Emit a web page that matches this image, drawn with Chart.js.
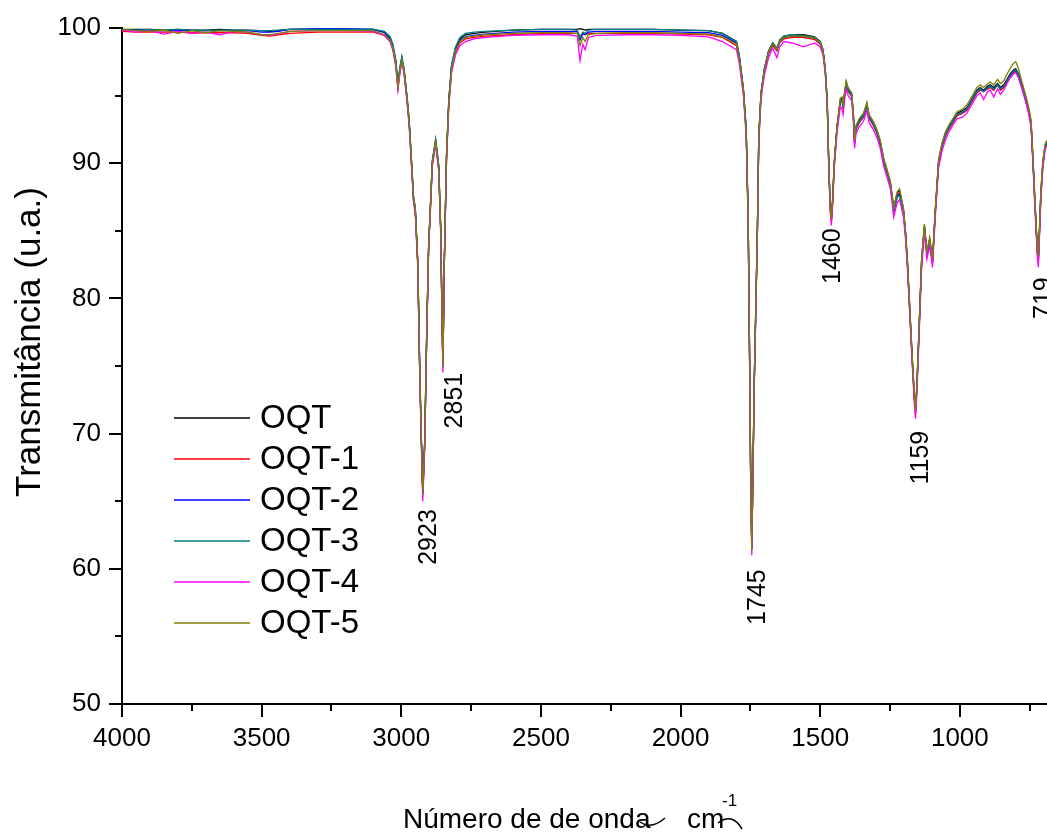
<!DOCTYPE html>
<html>
<head>
<meta charset="utf-8">
<script src="https://cdn.jsdelivr.net/npm/chart.js@4/dist/chart.umd.min.js"></script>
<style>
  html, body { margin: 0; padding: 0; background: #fff; }
  #wrap { width: 1047px; height: 834px; position: relative; }
</style>
</head>
<body>
<div id="wrap"><canvas id="chart"></canvas></div>
<script>
// FTIR spectra, transmittance vs wavenumber

const wavenumbers = [
  4000, 3950, 3900, 3850, 3800, 3750, 3700, 3650, 3600, 3550,
  3500, 3470, 3440, 3400, 3300, 3200, 3100, 3060, 3040, 3030,
  3020, 3012, 3005, 2998, 2990, 2980, 2972, 2963, 2956, 2950,
  2941, 2934, 2928, 2923, 2916, 2909, 2902, 2896, 2889, 2877,
  2866, 2859, 2855, 2851, 2846, 2838, 2830, 2820, 2806, 2790,
  2770, 2740, 2700, 2600, 2500, 2400, 2370, 2360, 2350, 2342,
  2330, 2300, 2200, 2100, 2000, 1900, 1850, 1800, 1790, 1775,
  1765, 1758, 1753, 1749, 1745, 1741, 1736, 1730, 1725, 1720,
  1712, 1700, 1685, 1670, 1655, 1645, 1630, 1600, 1560, 1520,
  1500, 1490, 1482, 1475, 1469, 1464, 1460, 1455, 1450, 1440,
  1428, 1422, 1418, 1412, 1407, 1400, 1387, 1381, 1377, 1372,
  1360, 1345, 1333, 1325, 1310, 1297, 1285, 1273, 1260, 1249,
  1242, 1237, 1230, 1224, 1216, 1210, 1202, 1195, 1188, 1180,
  1170, 1163, 1159, 1154, 1148, 1137, 1127, 1118, 1108, 1098,
  1088, 1076, 1064, 1052, 1040, 1025, 1010, 990, 975, 955,
  939, 927, 915, 900, 891, 879, 865, 855, 843, 831,
  820, 808, 800, 790, 784, 772, 760, 752, 745, 738,
  732, 726, 722, 719, 715, 710, 703, 695, 688
];

const oqt = [
  99.9, 99.9, 99.9, 99.85, 99.9, 99.85, 99.85, 99.9, 99.85, 99.85,
  99.8, 99.75, 99.8, 99.9, 99.9, 99.9, 99.9, 99.7, 99.3, 98.7,
  97.6, 95.8, 97.0, 97.8, 96.9, 95.0, 93.2, 90.0, 87.4, 86.7,
  82.7, 74.8, 69.5, 65.6, 69.5, 77.4, 84.0, 86.7, 90.1, 91.7,
  89.8, 85.3, 80.0, 75.0, 82.7, 90.6, 94.6, 97.2, 98.5, 99.2,
  99.5, 99.6, 99.7, 99.85, 99.9, 99.9, 99.9, 99.95, 99.9, 99.85,
  99.9, 99.9, 99.9, 99.9, 99.85, 99.8, 99.6, 99.0, 98.0, 95.5,
  92.5, 86.0, 76.0, 67.0, 61.6, 67.0, 74.0, 80.0, 85.0, 92.0,
  95.2, 97.0, 98.3, 98.9, 98.5, 99.1, 99.4, 99.5, 99.5, 99.35,
  99.0, 98.4, 97.0, 94.7, 89.7, 86.8, 85.9, 87.5, 90.0, 92.7,
  94.7, 94.8, 94.3, 95.3, 96.0, 95.5, 95.1, 93.5, 91.6, 92.7,
  93.2, 93.6, 94.4, 93.5, 93.0, 92.4, 91.6, 90.3, 89.4, 88.6,
  87.5, 86.6, 87.3, 87.8, 88.0, 87.4, 86.6, 85.0, 82.8, 79.5,
  75.4, 72.8, 71.7, 73.5, 76.7, 82.8, 85.4, 83.4, 84.4, 82.8,
  86.5, 90.2, 91.4, 92.2, 92.7, 93.2, 93.7, 93.9, 94.1, 94.8,
  95.4, 95.6, 95.4, 95.7, 95.8, 95.6, 95.9, 95.6, 95.8, 96.2,
  96.6, 96.9, 97.0, 96.6, 96.2, 95.4, 94.5, 93.8, 93.0, 90.2,
  87.5, 85.0, 83.4, 82.9, 85.0, 87.8, 90.0, 91.3, 91.6
];

const oqt1 = [
  99.75, 99.7, 99.7, 99.7, 99.7, 99.65, 99.65, 99.65, 99.65, 99.6,
  99.45, 99.4, 99.5, 99.6, 99.7, 99.7, 99.7, 99.45, 99.0, 98.4,
  97.3, 95.6, 96.8, 97.6, 96.7, 94.8, 93.0, 89.8, 87.2, 86.5,
  82.5, 74.6, 69.3, 65.6, 69.3, 77.2, 83.8, 86.5, 89.9, 91.5,
  89.6, 85.1, 79.8, 74.9, 82.5, 90.4, 94.3, 96.9, 98.2, 98.9,
  99.2, 99.3, 99.4, 99.5, 99.6, 99.6, 99.6, 99.4, 99.6, 99.5,
  99.6, 99.6, 99.6, 99.6, 99.55, 99.5, 99.3, 98.7, 97.7, 95.2,
  92.2, 85.8, 75.8, 66.8, 61.5, 66.8, 73.8, 79.8, 84.8, 91.8,
  95.0, 96.8, 98.1, 98.7, 98.3, 98.9, 99.2, 99.3, 99.3, 99.15,
  98.8, 98.2, 96.8, 94.5, 89.5, 86.6, 85.8, 87.3, 89.8, 92.5,
  94.5, 94.6, 94.1, 95.1, 95.8, 95.3, 94.9, 93.3, 91.4, 92.5,
  93.0, 93.4, 94.2, 93.3, 92.8, 92.2, 91.4, 90.1, 89.2, 88.4,
  87.3, 86.4, 87.1, 87.6, 87.8, 87.2, 86.4, 84.8, 82.6, 79.3,
  75.2, 72.6, 71.5, 73.3, 76.5, 82.6, 85.2, 83.2, 84.2, 82.6,
  86.3, 90.0, 91.2, 92.0, 92.5, 93.0, 93.5, 93.7, 93.9, 94.6,
  95.2, 95.4, 95.3, 95.5, 95.6, 95.4, 95.8, 95.4, 95.6, 96.0,
  96.4, 96.7, 96.8, 96.4, 96.0, 95.2, 94.3, 93.6, 92.8, 90.0,
  87.3, 84.8, 83.2, 82.7, 84.8, 87.6, 89.8, 91.1, 91.4
];

const oqt2 = [
  99.85, 99.85, 99.8, 99.8, 99.85, 99.8, 99.8, 99.8, 99.8, 99.8,
  99.7, 99.7, 99.75, 99.9, 99.95, 99.95, 99.9, 99.65, 99.2, 98.6,
  97.5, 95.7, 96.9, 97.7, 96.8, 94.9, 93.1, 89.9, 87.3, 86.6,
  82.6, 74.7, 69.4, 65.5, 69.4, 77.3, 83.9, 86.6, 90.0, 91.6,
  89.7, 85.2, 79.9, 74.9, 82.6, 90.5, 94.5, 97.1, 98.4, 99.1,
  99.35, 99.45, 99.55, 99.7, 99.75, 99.75, 99.75, 99.1, 99.6, 99.5,
  99.7, 99.75, 99.75, 99.75, 99.7, 99.65, 99.45, 98.9, 97.9, 95.4,
  92.4, 85.9, 75.9, 66.9, 61.5, 66.9, 73.9, 79.9, 84.9, 91.9,
  95.1, 96.9, 98.2, 98.8, 98.4, 99.0, 99.3, 99.4, 99.4, 99.25,
  98.9, 98.3, 96.9, 94.6, 89.6, 86.7, 85.8, 87.4, 89.9, 92.6,
  94.6, 94.7, 94.2, 95.2, 95.9, 95.4, 95.0, 93.4, 91.5, 92.6,
  93.1, 93.5, 94.3, 93.4, 92.9, 92.3, 91.5, 90.2, 89.3, 88.5,
  87.4, 86.4, 87.1, 87.6, 87.7, 87.2, 86.5, 84.9, 82.7, 79.4,
  75.3, 72.7, 71.6, 73.4, 76.6, 82.7, 85.3, 83.3, 84.3, 82.7,
  86.4, 90.1, 91.3, 92.1, 92.6, 93.1, 93.6, 93.8, 94.0, 94.7,
  95.3, 95.5, 95.3, 95.6, 95.7, 95.5, 95.8, 95.5, 95.7, 96.1,
  96.5, 96.8, 96.9, 96.5, 96.1, 95.3, 94.4, 93.7, 92.9, 90.1,
  87.4, 84.9, 83.3, 82.8, 84.9, 87.7, 89.9, 91.2, 91.5
];

const oqt3 = [
  99.9, 99.85, 99.9, 99.85, 99.9, 99.85, 99.8, 99.85, 99.85, 99.8,
  99.8, 99.8, 99.85, 99.9, 99.9, 99.9, 99.9, 99.75, 99.35, 98.8,
  97.7, 95.9, 97.1, 97.9, 97.0, 95.1, 93.3, 90.1, 87.5, 86.8,
  82.8, 74.9, 69.6, 65.6, 69.6, 77.5, 84.1, 86.8, 90.2, 91.8,
  89.9, 85.4, 80.1, 75.0, 82.8, 90.7, 94.7, 97.3, 98.6, 99.3,
  99.6, 99.7, 99.75, 99.85, 99.9, 99.9, 99.85, 99.3, 99.7, 99.6,
  99.85, 99.9, 99.9, 99.9, 99.85, 99.8, 99.6, 99.0, 98.0, 95.5,
  92.5, 86.0, 76.0, 67.0, 61.5, 67.0, 74.0, 80.0, 85.0, 92.0,
  95.2, 97.0, 98.3, 98.9, 98.5, 99.1, 99.4, 99.5, 99.45, 99.3,
  98.95, 98.35, 96.95, 94.7, 89.7, 86.7, 85.8, 87.4, 89.9, 92.6,
  94.6, 94.7, 94.2, 95.2, 95.9, 95.4, 95.0, 93.4, 91.5, 92.6,
  93.1, 93.5, 94.3, 93.4, 92.9, 92.3, 91.5, 90.2, 89.3, 88.5,
  87.4, 86.4, 87.0, 87.5, 87.6, 87.1, 86.4, 84.9, 82.7, 79.4,
  75.3, 72.7, 71.6, 73.4, 76.6, 82.7, 85.3, 83.3, 84.3, 82.7,
  86.4, 90.1, 91.3, 92.1, 92.6, 93.1, 93.6, 93.8, 94.0, 94.7,
  95.3, 95.5, 95.3, 95.6, 95.7, 95.5, 95.8, 95.5, 95.7, 96.1,
  96.5, 96.8, 96.9, 96.5, 96.1, 95.3, 94.4, 93.7, 92.9, 90.1,
  87.4, 84.9, 83.3, 82.8, 84.9, 87.7, 89.9, 91.2, 91.5
];

const oqt4 = [
  99.85, 99.7, 99.8, 99.55, 99.75, 99.6, 99.7, 99.5, 99.75, 99.7,
  99.5, 99.45, 99.55, 99.75, 99.8, 99.8, 99.75, 99.45, 99.0, 98.35,
  97.2, 95.4, 96.6, 97.5, 96.6, 94.6, 92.8, 89.6, 87.0, 86.3,
  82.3, 74.3, 69.0, 65.0, 69.0, 77.0, 83.6, 86.3, 89.7, 91.4,
  89.4, 84.8, 79.5, 74.5, 82.3, 90.2, 94.1, 96.7, 98.0, 98.7,
  99.0, 99.2, 99.3, 99.45, 99.5, 99.5, 99.4, 97.6, 98.8, 98.4,
  99.3, 99.45, 99.5, 99.5, 99.45, 99.35, 99.0, 98.4, 97.4, 95.0,
  92.0, 85.5, 75.4, 66.5, 61.0, 66.5, 73.5, 79.5, 84.5, 91.5,
  94.7, 96.5, 97.8, 98.5, 97.8, 98.6, 99.0, 98.9, 98.6, 98.9,
  98.6, 98.0, 96.6, 94.3, 89.3, 86.3, 85.4, 87.0, 89.5, 92.2,
  94.2, 94.0, 93.6, 94.8, 95.5, 95.0, 94.6, 93.0, 91.1, 92.2,
  92.7, 93.1, 93.9, 93.0, 92.5, 91.9, 91.1, 89.8, 88.9, 88.1,
  87.0, 86.0, 86.6, 87.1, 87.3, 86.8, 86.0, 84.5, 82.3, 79.0,
  74.9, 72.2, 71.1, 72.9, 76.1, 82.2, 84.9, 82.9, 83.9, 82.3,
  86.0, 89.7, 90.9, 91.7, 92.3, 92.8, 93.3, 93.4, 93.7, 94.4,
  95.0, 95.2, 94.7, 95.3, 95.4, 94.9, 95.5, 95.1, 95.4, 95.9,
  96.3, 96.6, 96.7, 96.3, 95.9, 95.1, 94.2, 93.5, 92.6, 89.8,
  87.0, 84.5, 82.9, 82.3, 84.5, 87.3, 89.6, 91.0, 91.3
];

const oqt5 = [
  99.9, 99.8, 99.75, 99.85, 99.6, 99.8, 99.65, 99.8, 99.75, 99.7,
  99.5, 99.5, 99.6, 99.75, 99.8, 99.8, 99.8, 99.5, 99.1, 98.5,
  97.4, 95.6, 96.8, 97.6, 96.8, 94.9, 93.1, 89.9, 87.3, 86.6,
  82.6, 74.7, 69.4, 65.5, 69.4, 77.3, 83.9, 86.6, 90.0, 91.6,
  89.7, 85.2, 79.9, 74.9, 82.6, 90.5, 94.4, 97.0, 98.3, 99.0,
  99.3, 99.4, 99.5, 99.6, 99.65, 99.65, 99.6, 98.7, 99.3, 99.0,
  99.5, 99.6, 99.65, 99.65, 99.6, 99.55, 99.35, 98.8, 97.8, 95.4,
  92.4, 85.9, 75.9, 66.9, 61.4, 66.9, 73.9, 79.9, 84.9, 91.9,
  95.1, 96.9, 98.2, 98.8, 98.4, 99.0, 99.3, 99.4, 99.4, 99.25,
  98.9, 98.3, 96.9, 94.6, 89.6, 86.8, 85.9, 87.5, 90.0, 92.7,
  94.8, 94.9, 94.4, 95.4, 96.1, 95.6, 95.2, 93.6, 91.7, 92.8,
  93.3, 93.7, 94.5, 93.6, 93.1, 92.5, 91.7, 90.4, 89.5, 88.7,
  87.6, 86.7, 87.4, 87.9, 88.1, 87.5, 86.7, 85.1, 82.9, 79.6,
  75.5, 72.9, 71.7, 73.6, 76.8, 82.9, 85.5, 83.5, 84.5, 82.9,
  86.6, 90.3, 91.5, 92.3, 92.8, 93.3, 93.8, 94.0, 94.3, 95.0,
  95.6, 95.8, 95.6, 95.9, 96.0, 95.8, 96.2, 95.9, 96.1, 96.6,
  97.0, 97.4, 97.5, 97.0, 96.5, 95.6, 94.7, 94.0, 93.2, 90.4,
  87.7, 85.2, 83.6, 83.1, 85.2, 88.0, 90.2, 91.4, 91.7
];

const seriesNames = ['OQT', 'OQT-1', 'OQT-2', 'OQT-3', 'OQT-4', 'OQT-5'];
const seriesColors = ['#000000', '#ff0000', '#0000ff', '#008080', '#ff00ff', '#808000'];
const seriesValues = [oqt, oqt1, oqt2, oqt3, oqt4, oqt5];

const xTicks = [4000, 3500, 3000, 2500, 2000, 1500, 1000];
const xMinorTicks = [3750, 3250, 2750, 2250, 1750, 1250, 750];
const yMinorTicks = [55, 65, 75, 85, 95];

const peakLabels = ['2923', '2851', '1745', '1460', '1159', '719'];
const peakWavenumbers = [2923, 2851, 1745, 1460, 1159, 719];

const FONT = '"Liberation Sans", Arial, sans-serif';

// small nudges for the peak labels (dx, dy in px)
const labelNudge = [[0, -2], [6, -10], [0, 4], [-4, -7], [0, 2], [0, 0]];

// minor ticks, peak labels, legend and axis titles
const decorPlugin = {
  id: 'decor',
  afterDraw(chart) {
    const ctx = chart.ctx;
    const xs = chart.scales.x, ys = chart.scales.y;
    const area = chart.chartArea;
    ctx.save();
    ctx.strokeStyle = '#000';
    ctx.lineWidth = 2;
    ctx.beginPath();
    xMinorTicks.forEach(v => {
      const px = Math.round(xs.getPixelForValue(v));
      ctx.moveTo(px, area.bottom);
      ctx.lineTo(px, area.bottom + 7);
    });
    yMinorTicks.forEach(v => {
      const py = Math.round(ys.getPixelForValue(v));
      ctx.moveTo(area.left, py);
      ctx.lineTo(area.left - 7, py);
    });
    ctx.stroke();

    // peak labels, rotated, below each band minimum
    ctx.fillStyle = '#000';
    ctx.font = '25px ' + FONT;
    ctx.textAlign = 'right';
    ctx.textBaseline = 'middle';
    peakWavenumbers.forEach((w, i) => {
      const idx = wavenumbers.indexOf(w);
      const low = Math.min(...seriesValues.map(s => s[idx]));
      const px = xs.getPixelForValue(w) + 6 + labelNudge[i][0];
      const py = ys.getPixelForValue(low) + 10 + labelNudge[i][1];
      ctx.save();
      ctx.translate(px, py);
      ctx.rotate(-Math.PI / 2);
      ctx.fillText(peakLabels[i], 0, 0);
      ctx.restore();
    });

    // legend
    ctx.font = '33px ' + FONT;
    ctx.textAlign = 'left';
    chart.data.datasets.forEach((ds, i) => {
      const y = area.top + 390 + i * 41;
      ctx.strokeStyle = ds.borderColor;
      ctx.lineWidth = 1.3;
      ctx.beginPath();
      ctx.moveTo(area.left + 52, y);
      ctx.lineTo(area.left + 128, y);
      ctx.stroke();
      ctx.fillStyle = '#000';
      ctx.fillText(ds.label, area.left + 138, y + 1);
    });

    // y title
    ctx.save();
    ctx.font = '35px ' + FONT;
    ctx.textAlign = 'center';
    ctx.translate(30, 342);
    ctx.rotate(-Math.PI / 2);
    ctx.fillText('Transmitância (u.a.)', 0, 0);
    ctx.restore();

    // x title
    ctx.font = '28px ' + FONT;
    ctx.textAlign = 'left';
    ctx.textBaseline = 'alphabetic';
    ctx.fillText('Número de de onda', 403, 828);
    ctx.fillText('cm', 687, 828);
    ctx.font = '17px ' + FONT;
    ctx.fillText('-1', 722, 806);
    ctx.strokeStyle = '#000';
    ctx.lineWidth = 1.5;
    ctx.beginPath();
    ctx.moveTo(640, 822);
    ctx.quadraticCurveTo(651, 830, 665, 818);
    ctx.moveTo(718, 823);
    ctx.quadraticCurveTo(732, 812, 742, 829);
    ctx.stroke();
    ctx.restore();
  }
};

const ctx = document.getElementById('chart').getContext('2d');
new Chart(ctx, {
  type: 'line',
  data: {
    datasets: seriesNames.map((name, i) => ({
      label: name,
      data: wavenumbers.map((w, j) => ({ x: w, y: seriesValues[i][j] })),
      borderColor: seriesColors[i],
      borderWidth: 1.3,
      pointRadius: 0,
      tension: 0,
      fill: false,
      order: seriesNames.length - 1 - i,
    }))
  },
  options: {
    responsive: true,
    maintainAspectRatio: false,
    animation: false,
    layout: { padding: { top: 28, right: 0, left: 0, bottom: 0 } },
    plugins: { legend: { display: false }, tooltip: { enabled: false } },
    scales: {
      x: {
        type: 'linear',
        reverse: true,
        min: 688,
        max: 4000,
        afterBuildTicks: (scale) => { scale.ticks = xTicks.map(v => ({ value: v })); },
        afterFit: (scale) => { scale.height = 130; },
        border: { display: true, color: '#000', width: 2 },
        grid: { drawOnChartArea: false, drawTicks: true, tickLength: 13, lineWidth: 2, tickWidth: 2, color: '#000', tickColor: '#000' },
        ticks: {
          color: '#000', font: { family: FONT, size: 26 }, padding: 6, maxRotation: 0, autoSkip: false,
          callback: (v) => String(v)
        }
      },
      y: {
        min: 50,
        max: 100,
        afterFit: (scale) => { scale.width = 122; },
        border: { display: true, color: '#000', width: 2 },
        grid: { drawOnChartArea: false, drawTicks: true, tickLength: 13, lineWidth: 2, tickWidth: 2, color: '#000', tickColor: '#000' },
        ticks: { stepSize: 10, color: '#000', font: { family: FONT, size: 26 }, padding: 8 }
      }
    }
  },
  plugins: [decorPlugin]
});
</script>
</body>
</html>
